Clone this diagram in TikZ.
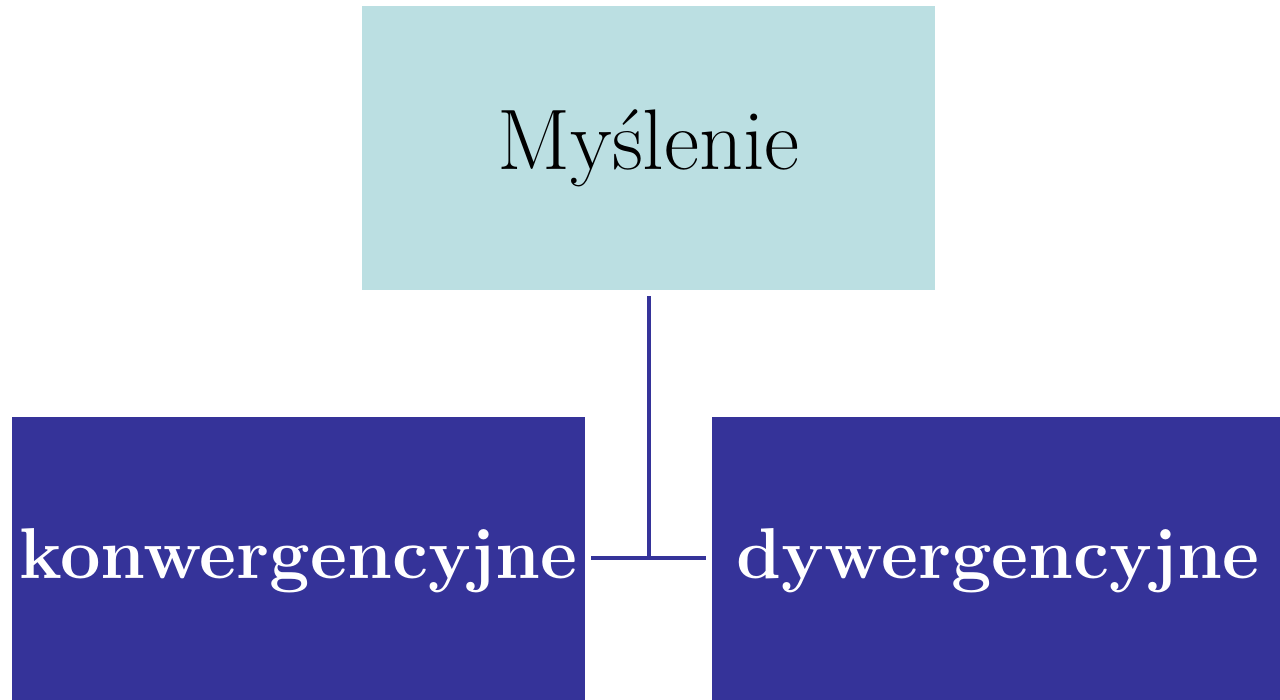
\documentclass[tikz,border=0pt]{standalone}
\usepackage{fontspec}
\definecolor{lightcyan}{HTML}{BBDFE2}
\definecolor{darkblue}{HTML}{353399}
\tikzset{
  topbox/.style={fill=lightcyan, text=black, inner sep=0pt, minimum width=286.5pt, minimum height=142pt, font=\fontsize{43}{50}\selectfont},
  bottombox/.style={fill=darkblue, text=white, inner sep=0pt, minimum width=286.5pt, minimum height=146pt},
  boxtext/.style={text=white, font=\fontsize{36}{43}\selectfont\bfseries},
  link/.style={draw=darkblue, line width=2pt}
}
\begin{document}
\begin{tikzpicture}[x=0.5pt,y=-0.5pt]
      \useasboundingbox (0,0) rectangle (1280,700);

      \node[topbox] (top) at (648.5,148) {Myślenie};

      \node[bottombox] (left) at (298.5,563) {};
      \node[bottombox, minimum width=290pt] (right) at (1002,563) {};
      \node[boxtext] (lefttext) at (298.5,561) {konwergencyjne};
      \node[boxtext] (righttext) at (998,561) {dywergencyjne};

      \coordinate (leftmid) at (left.east |- 0,558);
      \coordinate (rightmid) at (right.west |- 0,558);
      \coordinate (joint) at (top.south |- leftmid);

      \draw[link, shorten <=6*0.5pt] (top.south) -- (joint);
      \draw[link, shorten <=6*0.5pt, shorten >=6*0.5pt] (leftmid) -- (rightmid);

  \end{tikzpicture}
\end{document}
